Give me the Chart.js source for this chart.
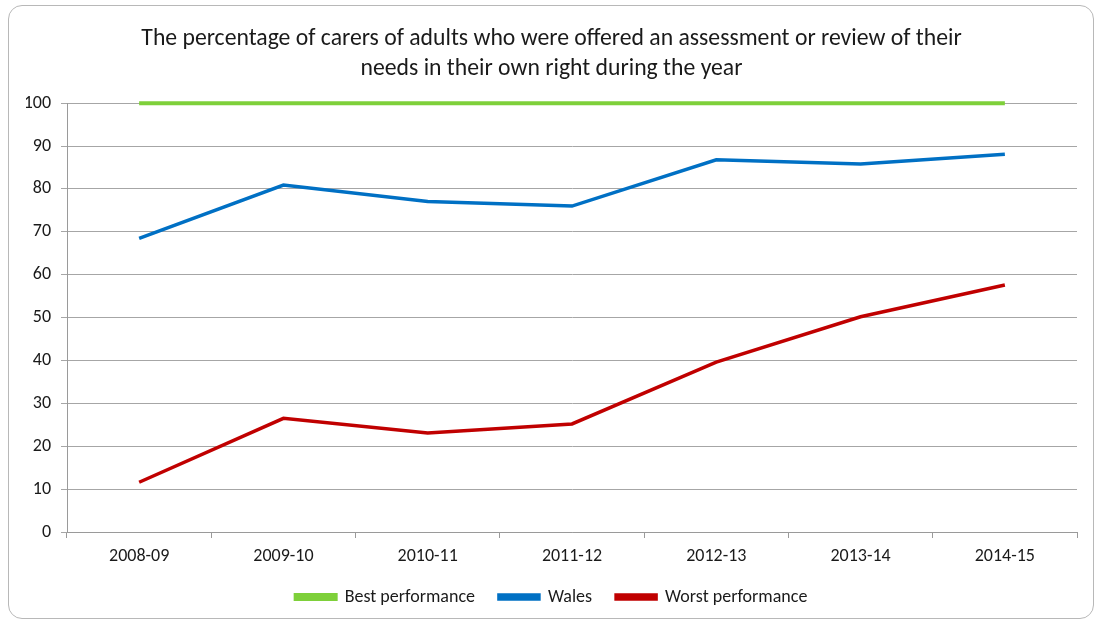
<!DOCTYPE html>
<html>
<head>
<meta charset="utf-8">
<script src="https://cdn.jsdelivr.net/npm/chart.js@4"></script>
<style>
  html, body { margin: 0; padding: 0; background: #fff; }
  #wrap { position: relative; width: 1101px; height: 626px; }
  #frame {
    position: absolute; left: 8px; top: 5px; width: 1086px; height: 614px;
    border: 1px solid #b8b8b8; border-radius: 14px; box-sizing: border-box;
  }
  canvas { position: absolute; left: 0; top: 0; }
</style>
</head>
<body>
<div id="wrap">
  <div id="frame"></div>
  <canvas id="myChart" width="1101" height="626"></canvas>
</div>
<script>
const years = ['2008-09', '2009-10', '2010-11', '2011-12', '2012-13', '2013-14', '2014-15']
const bestPerformance = [100, 100, 100, 100, 100, 100, 100]
const wales = [68.5, 80.9, 77.1, 76, 86.8, 85.8, 88.1]
const worstPerformance = [11.6, 26.5, 23.1, 25.2, 39.6, 50.2, 57.6]

const fontFamily = 'Carlito, Calibri, "Open Sans", sans-serif'

const data = {
    labels: years,
    datasets: [
        {
            label: 'Best performance',
            data: bestPerformance,
            borderColor: '#7ed03a',
            backgroundColor: '#7ed03a',
            borderWidth: 4,
            pointRadius: 0,
            clip: false,
        },
        {
            label: 'Wales',
            data: wales,
            borderColor: '#0070c4',
            backgroundColor: '#0070c4',
            borderWidth: 3.5,
            pointRadius: 0,
            clip: false,
        },
        {
            label: 'Worst performance',
            data: worstPerformance,
            borderColor: '#c00000',
            backgroundColor: '#c00000',
            borderWidth: 3.5,
            pointRadius: 0,
            clip: false,
        },
    ],
}

const config = {
    type: 'line',
    data: data,
    options: {
        responsive: false,
        animation: false,
        layout: { padding: { left: 26, right: 24, top: 24, bottom: 10 } },
        plugins: {
            title: {
                display: true,
                text: [
                    'The percentage of carers of adults who were offered an assessment or review of their',
                    'needs in their own right during the year',
                ],
                color: '#1a1a1a',
                font: { family: fontFamily, size: 23.7, weight: 'normal', lineHeight: 1.27 },
                padding: { top: 0, bottom: 19 },
            },
            legend: {
                position: 'bottom',
                labels: {
                    color: '#1a1a1a',
                    font: { family: fontFamily, size: 18 },
                    boxWidth: 40,
                    boxHeight: 4,
                    padding: 24,
                },
            },
            tooltip: { enabled: false },
        },
        scales: {
            x: {
                offset: true,
                afterFit: (scale) => {
                    // labels hang below into the legend's empty top padding
                    scale.height = 32
                },
                grid: {
                    offset: true,
                    drawOnChartArea: false,
                    color: '#9a9a9a',
                    tickLength: 6,
                },
                border: { color: '#9a9a9a', width: 1 },
                ticks: {
                    color: '#1a1a1a',
                    font: { family: fontFamily, size: 18 },
                    padding: 8,
                },
            },
            y: {
                min: 0,
                max: 100,
                afterFit: (scale) => {
                    scale.width = 41
                },
                ticks: {
                    stepSize: 10,
                    color: '#1a1a1a',
                    font: { family: fontFamily, size: 18 },
                    padding: 10,
                },
                grid: {
                    color: '#a6a6a6',
                    tickLength: 6,
                },
                border: { color: '#9a9a9a', width: 1 },
            },
        },
    },
}

const myChart = new Chart(document.getElementById('myChart'), config)
</script>
</body>
</html>
